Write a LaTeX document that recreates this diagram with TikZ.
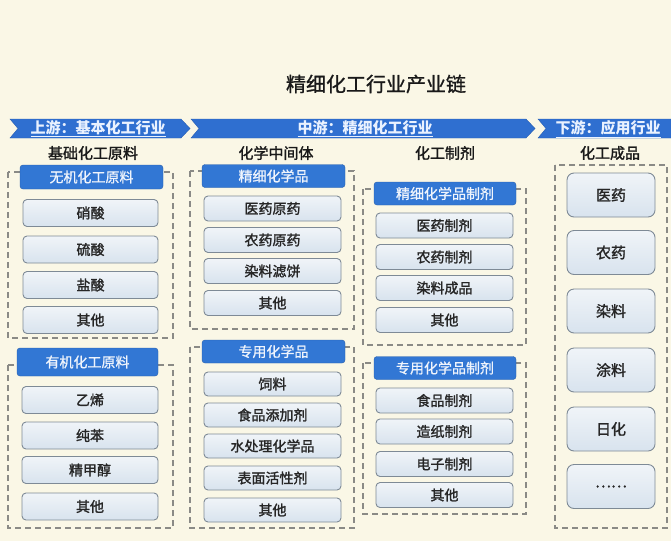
\documentclass[tikz,border=0pt]{standalone}
\usepackage{fontspec}
\setmainfont{Noto Sans CJK SC}
\newfontfamily\medf[FakeBold=1.6]{Noto Sans CJK SC}
\newfontfamily\semif[FakeBold=1.0]{Noto Sans CJK SC}
\usetikzlibrary{positioning}
\definecolor{bg}{HTML}{FAF7E6}
\definecolor{bann}{HTML}{2F6FD0}
\definecolor{hdr}{HTML}{3277D4}
\definecolor{itemtop}{HTML}{F0F4F8}
\definecolor{itembot}{HTML}{D8E3EE}
\definecolor{itemline}{HTML}{7E8A96}
\definecolor{frameline}{HTML}{8A8A86}
\definecolor{banntext}{HTML}{EAF2FF}
\tikzset{
  frame/.style={draw=frameline, line width=1.1pt, dash pattern=on 6pt off 4pt},
  hdrbox/.style={fill=hdr, draw=hdr!80!black, line width=0.4pt, rounded corners=3pt, text=white!92!hdr, font=\semif\fontsize{14}{14}\selectfont, inner sep=0pt},
  item/.style={draw=itemline, line width=0.9pt, rounded corners=4pt, top color=itemtop, bottom color=itembot, font=\medf\fontsize{14}{14}\selectfont, inner sep=0pt, text=black!85},
  bigitem/.style={item, rounded corners=7pt, font=\medf\fontsize{15}{15}\selectfont},
  subt/.style={font=\medf\fontsize{15}{15}\selectfont, text=black!90, inner sep=0pt},
  banntxt/.style={font=\bfseries\fontsize{15}{15}\selectfont, text=banntext, inner sep=0pt},
  bannshape/.style={fill=bann, draw=bann!85!black, line width=0.4pt}
}
\begin{document}
\begin{tikzpicture}[x=1pt,y=-1pt]
\fill[bg] (0,0) rectangle (671,541);
\useasboundingbox (0,0) rectangle (671,541);

% title
\node[font=\semif\fontsize{20}{20}\selectfont, text=black!90, inner sep=0pt] (title) at (376,84) {精细化工行业产业链};

% banners
\draw[bannshape] (10,119) -- (181,119) -- (190,128.5) -- (181,138) -- (10,138) -- (18,128.5) -- cycle;
\draw[bannshape] (191,119) -- (526,119) -- (535,128.5) -- (526,138) -- (191,138) -- (199,128.5) -- cycle;
\draw[bannshape] (538,119) -- (671,119) -- (671,138) -- (538,138) -- (546,128.5) -- cycle;
\node[banntxt] (b1) at (98,129) {\underline{上游：基本化工行业}};
\node[banntxt] (b2) at (365,129) {\underline{中游：精细化工行业}};
\node[banntxt] (b3) at (608,129) {\underline{下游：应用行业}};

% subtitles
\node[subt] (s1) at (93,153) {基础化工原料};
\node[subt] (s2) at (276,153) {化学中间体};
\node[subt] (s3) at (445,153) {化工制剂};
\node[subt] (s4) at (610,153) {化工成品};

% ---------- column 1 ----------
\draw[frame] (8,172) rectangle (173,338);
\node[hdrbox, minimum width=143pt, minimum height=24pt] (h11) at (91.5,177) {无机化工原料};
\node[item, minimum width=135pt, minimum height=27pt] (i111) at (90.5,213) {硝酸};
\node[item, minimum width=135pt, minimum height=27pt] (i112) at (90.5,249.5) {硫酸};
\node[item, minimum width=135pt, minimum height=27pt] (i113) at (90.5,285) {盐酸};
\node[item, minimum width=135pt, minimum height=27pt] (i114) at (90.5,320) {其他};

\draw[frame] (8,365) rectangle (173,528);
\node[hdrbox, minimum width=141pt, minimum height=28pt] (h12) at (87.5,362) {有机化工原料};
\node[item, minimum width=136pt, minimum height=27pt] (i121) at (90,400) {乙烯};
\node[item, minimum width=136pt, minimum height=27pt] (i122) at (90,435.5) {纯苯};
\node[item, minimum width=136pt, minimum height=27pt] (i123) at (90,470) {精甲醇};
\node[item, minimum width=136pt, minimum height=27pt] (i124) at (90,506.5) {其他};

% ---------- column 2 ----------
\draw[frame] (190,171) rectangle (354,329);
\node[hdrbox, minimum width=143pt, minimum height=23pt] (h21) at (273.5,176) {精细化学品};
\node[item, minimum width=137pt, minimum height=25pt] (i211) at (272.5,208.5) {医药原药};
\node[item, minimum width=137pt, minimum height=25pt] (i212) at (272.5,240) {农药原药};
\node[item, minimum width=137pt, minimum height=25pt] (i213) at (272.5,271) {染料滤饼};
\node[item, minimum width=137pt, minimum height=25pt] (i214) at (272.5,303) {其他};

\draw[frame] (190,347) rectangle (354,528);
\node[hdrbox, minimum width=143pt, minimum height=23pt] (h22) at (273.5,351.5) {专用化学品};
\node[item, minimum width=137pt, minimum height=24pt] (i221) at (272.5,384) {饲料};
\node[item, minimum width=137pt, minimum height=24pt] (i222) at (272.5,415) {食品添加剂};
\node[item, minimum width=137pt, minimum height=24pt] (i223) at (272.5,446) {水处理化学品};
\node[item, minimum width=137pt, minimum height=24pt] (i224) at (272.5,478) {表面活性剂};
\node[item, minimum width=137pt, minimum height=24pt] (i225) at (272.5,510) {其他};

% ---------- column 3 ----------
\draw[frame] (363,189) rectangle (526,345);
\node[hdrbox, minimum width=142pt, minimum height=23pt] (h31) at (445,193.5) {精细化学品制剂};
\node[item, minimum width=137pt, minimum height=25pt] (i311) at (444.5,225.5) {医药制剂};
\node[item, minimum width=137pt, minimum height=25pt] (i312) at (444.5,257) {农药制剂};
\node[item, minimum width=137pt, minimum height=25pt] (i313) at (444.5,288) {染料成品};
\node[item, minimum width=137pt, minimum height=25pt] (i314) at (444.5,320) {其他};

\draw[frame] (363,363) rectangle (526,514);
\node[hdrbox, minimum width=142pt, minimum height=23pt] (h32) at (445,368) {专用化学品制剂};
\node[item, minimum width=137pt, minimum height=25pt] (i321) at (444.5,400.5) {食品制剂};
\node[item, minimum width=137pt, minimum height=25pt] (i322) at (444.5,431.5) {造纸制剂};
\node[item, minimum width=137pt, minimum height=25pt] (i323) at (444.5,464) {电子制剂};
\node[item, minimum width=137pt, minimum height=25pt] (i324) at (444.5,495) {其他};

% ---------- column 4 ----------
\draw[frame] (555,165) rectangle (667,528);
\node[bigitem, minimum width=88pt, minimum height=44pt] (i41) at (611,195) {医药};
\node[bigitem, minimum width=88pt, minimum height=44pt] (i42) at (611,252.5) {农药};
\node[bigitem, minimum width=88pt, minimum height=44pt] (i43) at (611,311) {染料};
\node[bigitem, minimum width=88pt, minimum height=44pt] (i44) at (611,370) {涂料};
\node[bigitem, minimum width=88pt, minimum height=44pt] (i45) at (611,429) {日化};
\node[bigitem, minimum width=88pt, minimum height=44pt] (i46) at (611,486.5) {……};
\end{tikzpicture}
\end{document}
